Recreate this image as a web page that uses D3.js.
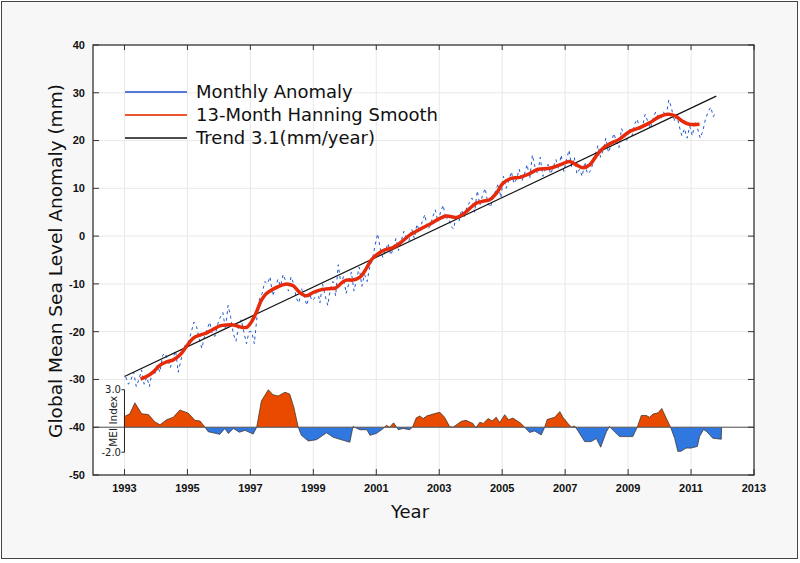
<!DOCTYPE html>
<html>
<head>
<meta charset="utf-8">
<script src="https://cdn.jsdelivr.net/npm/d3@7"></script>
<style>
  body { margin: 0; background: #fff; }
  svg text { font-family: "DejaVu Sans", sans-serif; }
  .tick-label { font-family: "Liberation Sans", Arial, sans-serif !important; font-weight: bold; font-size: 11px; fill: #111; }
</style>
</head>
<body>
<div id="chart"></div>
<script>
// Monthly sea level anomaly (mm), Jan 1993 .. Oct 2011
const monthlyStart = 1993;
const monthlyAnomaly = [
  -29.5, -31, -30, -28.5, -31.5, -30, -28, -31, -29.5, -31.5, -28.5, -29,
  -27, -28.5, -25, -24.5, -26, -27.5, -25.5, -24, -28.5, -26, -23.5, -22.5,
  -22, -20, -18, -19, -21.5, -23.5, -21, -19.5, -18, -20.5, -21, -18.5,
  -17, -16, -19.5, -14.5, -17, -20.5, -22, -19, -17.5, -20, -22.5, -20,
  -20, -22.5, -17, -13, -12, -9.5, -10, -8.5, -12.5, -11, -9, -10.5,
  -8, -9.5, -11.5, -8.5, -10, -13, -14, -11, -12.5, -14.5, -12, -13.5,
  -13, -11, -14, -10, -12.5, -14.5, -11, -9.5, -12.5, -6, -10, -8.5,
  -12, -10, -7.5, -11.5, -9, -6.5, -10.5, -8, -9.5, -6.5, -5, -2,
  0.5, -2.5, -4.5, -3, -1.5, -4, -2.5, -0.5, -3, -1, 1, -0.5,
  -1, 1.5, -0.5, 2.5, 1, 3, 4.5, 1.5, 2, 4, 5.5, 3,
  5, 6.5, 3.5, 4, 2, 1.5, 4.5, 3, 5.5, 4, 6, 7,
  8, 5, 9.5, 6.5, 8.5, 10, 7, 6, 8, 9.5, 11, 8,
  12.5, 10, 11.5, 13.5, 11, 12, 14, 11.5, 13, 15, 12, 17,
  14.5, 13, 16.5, 12.5, 14, 15, 13, 14.5, 16, 14, 17, 13.5,
  16, 18, 14.5, 16.5, 13, 14, 12.5, 15.5, 13, 13.5, 15, 17,
  19, 16.5, 18, 20.5, 17.5, 19, 21.5, 20, 18.5, 22.5, 21, 20,
  22.5, 21, 23.5, 24.5, 22, 23, 25.5, 24, 22.5, 24.5, 26, 25,
  24.5, 26, 25, 28.5, 27, 24, 25.5, 23, 21, 22.5, 20.5, 23,
  21, 24, 22.5, 20.5, 22, 24.5, 26, 27, 25, 26
];

// 13-month Hanning smooth (mm)
const smoothYear = [
  1993.51, 1993.70, 1993.92, 1994.13, 1994.34, 1994.55, 1994.76, 1994.97,
  1995.18, 1995.40, 1995.60, 1995.82, 1996.03, 1996.24, 1996.46, 1996.67,
  1996.88, 1997.04, 1997.20, 1997.35, 1997.51, 1997.72, 1997.94, 1998.15,
  1998.36, 1998.57, 1998.78, 1998.99, 1999.20, 1999.52, 1999.70, 1999.90,
  2000.05, 2000.26, 2000.48, 2000.69, 2000.84, 2001.00, 2001.27, 2001.53,
  2001.75, 2002.06, 2002.38, 2002.70, 2003.02, 2003.23, 2003.55, 2003.76,
  2003.97, 2004.18, 2004.39, 2004.60, 2004.82, 2005.03, 2005.29, 2005.56,
  2005.87, 2006.14, 2006.51, 2006.83, 2007.14, 2007.36, 2007.57, 2007.78,
  2007.99, 2008.20, 2008.41, 2008.73, 2009.05, 2009.37, 2009.68, 2010.00,
  2010.26, 2010.48, 2010.74, 2010.95, 2011.27
];
const smoothValue = [
  -29.9, -29.4, -28.4, -27.0, -26.3, -25.9, -24.9, -23.1,
  -21.4, -20.7, -20.3, -19.5, -18.8, -18.6, -18.6, -19.0,
  -19.1, -17.9, -15.8, -13.4, -12.0, -11.1, -10.4, -10.0,
  -10.4, -11.8, -12.5, -11.8, -11.3, -11.0, -10.9, -9.8,
  -9.2, -9.2, -8.6, -6.7, -5.0, -4.0, -2.9, -2.4,
  -1.5, 0.2, 1.4, 2.5, 3.7, 4.2, 3.9, 4.6,
  5.8, 6.9, 7.3, 7.6, 9.0, 11.1, 12.1, 12.3,
  13.1, 14.0, 14.2, 14.9, 15.6, 14.9, 14.3, 14.9,
  16.8, 18.4, 19.3, 20.3, 21.9, 22.7, 23.7, 25.0,
  25.5, 25.2, 24.0, 23.4, 23.4
];

// Linear trend 3.1 mm/year
const trendYear = [1993.0, 2011.8];
const trendValue = [-29.4, 29.3];

// Multivariate ENSO Index
const meiYear = [
  1993.0, 1993.0, 1993.17, 1993.33, 1993.55, 1993.76, 1993.97, 1994.13, 1994.34, 1994.55,
  1994.76, 1995.03, 1995.24, 1995.4, 1995.56, 1995.66, 1996.03, 1996.19, 1996.3, 1996.46,
  1996.65, 1996.83, 1997.09, 1997.2, 1997.35, 1997.57, 1997.72, 1997.88, 1998.1, 1998.25,
  1998.38, 1998.52, 1998.62, 1998.84, 1999.1, 1999.42, 1999.63, 1999.95, 2000.16, 2000.26,
  2000.48, 2000.7, 2000.8, 2001.0, 2001.2, 2001.32, 2001.42, 2001.55, 2001.7, 2001.85,
  2002.06, 2002.15, 2002.27, 2002.38, 2002.49, 2002.6, 2002.8, 2003.02, 2003.17, 2003.33,
  2003.44, 2003.7, 2003.85, 2004.07, 2004.16, 2004.29, 2004.4, 2004.55, 2004.68, 2004.81,
  2004.92, 2005.08, 2005.2, 2005.34, 2005.45, 2005.6, 2005.71, 2005.87, 2006.03, 2006.24,
  2006.35, 2006.43, 2006.67, 2006.83, 2006.93, 2007.09, 2007.2, 2007.3, 2007.41, 2007.62,
  2007.83, 2007.99, 2008.13, 2008.31, 2008.41, 2008.57, 2008.73, 2008.94, 2009.15, 2009.29,
  2009.42, 2009.58, 2009.68, 2009.79, 2009.95, 2010.07, 2010.2, 2010.35, 2010.48, 2010.58,
  2010.68, 2010.84, 2011.0, 2011.2, 2011.27, 2011.4, 2011.5, 2011.69, 2011.96, 2011.97
];
const meiValue = [
  0, 0.86, 1.07, 1.95, 1.07, 1.02, 0.42, 0.2, 0.6, 0.8,
  1.38, 1.12, 0.55, 0.5, 0.0, -0.36, -0.57, -0.1, -0.5, -0.1,
  -0.4, -0.25, -0.55, 0.0, 2.1, 3.0, 2.6, 2.5, 2.8, 2.65,
  1.6, 0.0, -0.65, -1.1, -1.0, -0.45, -0.8, -1.05, -1.2, 0.05,
  -0.2, -0.2, -0.65, -0.5, -0.15, 0.15, 0.0, 0.35, -0.2, -0.1,
  -0.2, 0.0, 0.75, 0.9, 0.7, 0.9, 1.05, 1.2, 0.8, 0.05,
  0.0, 0.47, 0.55, 0.3, -0.05, 0.4, 0.3, 0.7, 0.5, 0.8,
  0.37, 1.0, 0.6, 0.73, 0.55, 0.3, 0.0, -0.42, -0.3, -0.62,
  0.0, 0.62, 0.8, 1.25, 0.8, 0.3, 0.0, 0.1, -0.3, -1.15,
  -1.15, -0.9, -1.6, -0.37, 0.05, -0.37, -0.75, -0.75, -0.75, 0.0,
  0.94, 0.94, 0.8, 1.05, 1.15, 1.5, 0.8, 0.0, -0.9, -1.93,
  -1.93, -1.67, -1.67, -1.54, -0.75, -0.18, -0.36, -0.88, -0.96, 0
];

const yearTicks = [1993, 1995, 1997, 1999, 2001, 2003, 2005, 2007, 2009, 2011, 2013];
const levelTicks = [-50, -40, -30, -20, -10, 0, 10, 20, 30, 40];
const meiTicks = [3.0, -2.0];
const legendLabels = ['Monthly Anomaly', '13-Month Hanning Smooth', 'Trend 3.1(mm/year)'];

const width = 800;
const height = 563;
const margin = { top: 45, right: 46, bottom: 88, left: 93 };

const svg = d3.select('#chart')
  .append('svg')
  .attr('width', width)
  .attr('height', height);

// page background and frame
svg.append('rect')
  .attr('x', 1.5).attr('y', 1.5)
  .attr('width', 796).attr('height', 557)
  .attr('fill', '#f7f7f7')
  .attr('stroke', '#444')
  .attr('stroke-width', 1);

const x = d3.scaleLinear()
  .domain([1992, 2013])
  .range([margin.left, width - margin.right]);

const y = d3.scaleLinear()
  .domain([-50, 40])
  .range([height - margin.bottom, margin.top]);

const baseY = y(-40);
const mei = d3.scaleLinear()
  .domain([-2, 3])
  .range([baseY + 25, baseY - 37.5]);

const [x0, x1] = x.range();
const [yb, yt] = y.range();

// plot area
svg.append('rect')
  .attr('x', x0).attr('y', yt)
  .attr('width', x1 - x0).attr('height', yb - yt)
  .attr('fill', '#fff');

// grid
const grid = svg.append('g').attr('stroke', '#e8e8e8').attr('stroke-width', 1);
grid.selectAll('.vg')
  .data(yearTicks.filter((d) => d < 2013))
  .enter().append('line')
  .attr('x1', (d) => x(d)).attr('x2', (d) => x(d))
  .attr('y1', yt).attr('y2', yb);
grid.selectAll('.hg')
  .data(levelTicks.filter((d) => d > -50 && d < 40))
  .enter().append('line')
  .attr('x1', x0).attr('x2', x1)
  .attr('y1', (d) => y(d)).attr('y2', (d) => y(d));

// MEI areas, orange above zero and blue below
const defs = svg.append('defs');
defs.append('clipPath').attr('id', 'clip-pos')
  .append('rect').attr('x', x0).attr('y', yt).attr('width', x1 - x0).attr('height', baseY - yt);
defs.append('clipPath').attr('id', 'clip-neg')
  .append('rect').attr('x', x0).attr('y', baseY).attr('width', x1 - x0).attr('height', yb - baseY);

const meiData = meiYear.map((d, i) => ({ t: d, v: meiValue[i] }));
const meiArea = d3.area()
  .x((d) => x(d.t))
  .y0(baseY)
  .y1((d) => mei(d.v));
const meiLine = d3.line()
  .x((d) => x(d.t))
  .y((d) => mei(d.v));

svg.append('path')
  .datum(meiData)
  .attr('clip-path', 'url(#clip-pos)')
  .attr('fill', '#e84a00')
  .attr('d', meiArea);
svg.append('path')
  .datum(meiData)
  .attr('clip-path', 'url(#clip-neg)')
  .attr('fill', '#3077e0')
  .attr('d', meiArea);
svg.append('path')
  .datum(meiData)
  .attr('fill', 'none')
  .attr('stroke', '#3a2a20')
  .attr('stroke-width', 0.7)
  .attr('d', meiLine);

// MEI zero line
svg.append('line')
  .attr('x1', x0).attr('x2', x1)
  .attr('y1', baseY).attr('y2', baseY)
  .attr('stroke', '#555')
  .attr('stroke-width', 1);

// MEI mini axis
const meiAxis = svg.append('g');
meiAxis.append('line')
  .attr('x1', x(1993)).attr('x2', x(1993))
  .attr('y1', mei(3)).attr('y2', mei(-2))
  .attr('stroke', '#222').attr('stroke-width', 1);
meiAxis.selectAll('.mt')
  .data(meiTicks)
  .enter().append('line')
  .attr('x1', x(1993) - 3).attr('x2', x(1993))
  .attr('y1', (d) => mei(d)).attr('y2', (d) => mei(d))
  .attr('stroke', '#222');
meiAxis.selectAll('.ml')
  .data(meiTicks)
  .enter().append('text')
  .attr('x', x(1993) - 3.5)
  .attr('y', (d) => mei(d))
  .attr('dy', '0.35em')
  .attr('text-anchor', 'end')
  .style('font-size', '10px')
  .attr('fill', '#222')
  .text((d) => d.toFixed(1));
meiAxis.append('text')
  .attr('transform', `translate(${x(1993) - 7},${baseY - 6}) rotate(-90)`)
  .attr('text-anchor', 'middle')
  .style('font-size', '10.5px')
  .attr('fill', '#222')
  .text('MEI Index');

// monthly anomaly, dashed blue
const monthly = monthlyAnomaly.map((v, i) => ({ t: monthlyStart + (i + 0.5) / 12, v }));
const line = d3.line()
  .x((d) => x(d.t))
  .y((d) => y(d.v));

svg.append('path')
  .datum(monthly)
  .attr('fill', 'none')
  .attr('stroke', '#2459c8')
  .attr('stroke-width', 1)
  .attr('stroke-dasharray', '3,3.5')
  .attr('d', line);

// trend
const trend = trendYear.map((t, i) => ({ t, v: trendValue[i] }));
svg.append('path')
  .datum(trend)
  .attr('fill', 'none')
  .attr('stroke', '#111')
  .attr('stroke-width', 1.2)
  .attr('d', line);

// smooth
const smooth = smoothYear.map((t, i) => ({ t, v: smoothValue[i] }));
svg.append('path')
  .datum(smooth)
  .attr('fill', 'none')
  .attr('stroke', '#e62a0a')
  .attr('stroke-width', 3.5)
  .attr('stroke-linejoin', 'round')
  .attr('d', line.curve(d3.curveCatmullRom));

// frame and ticks
svg.append('rect')
  .attr('x', x0).attr('y', yt)
  .attr('width', x1 - x0).attr('height', yb - yt)
  .attr('fill', 'none')
  .attr('stroke', '#333')
  .attr('stroke-width', 1.3);

const ticks = svg.append('g').attr('stroke', '#333').attr('stroke-width', 1);
yearTicks.forEach((d) => {
  ticks.append('line').attr('x1', x(d)).attr('x2', x(d)).attr('y1', yt).attr('y2', yt + 5);
  ticks.append('line').attr('x1', x(d)).attr('x2', x(d)).attr('y1', yb).attr('y2', yb - 6);
});
levelTicks.forEach((d) => {
  ticks.append('line').attr('x1', x0).attr('x2', x0 + 6).attr('y1', y(d)).attr('y2', y(d));
  ticks.append('line').attr('x1', x1).attr('x2', x1 - 6).attr('y1', y(d)).attr('y2', y(d));
});

svg.append('g').selectAll('text')
  .data(yearTicks)
  .enter().append('text')
  .attr('class', 'tick-label')
  .attr('x', (d) => x(d))
  .attr('y', yb + 17)
  .attr('text-anchor', 'middle')
  .text((d) => d);

svg.append('g').selectAll('text')
  .data(levelTicks)
  .enter().append('text')
  .attr('class', 'tick-label')
  .attr('x', x0 - 8)
  .attr('y', (d) => y(d))
  .attr('dy', '0.35em')
  .attr('text-anchor', 'end')
  .text((d) => d);

// axis titles
svg.append('text')
  .attr('x', 410)
  .attr('y', 518)
  .attr('text-anchor', 'middle')
  .style('font-size', '18px')
  .attr('fill', '#111')
  .text('Year');

svg.append('text')
  .attr('transform', 'translate(62,261) rotate(-90)')
  .attr('text-anchor', 'middle')
  .style('font-size', '18.5px')
  .attr('fill', '#111')
  .text('Global Mean Sea Level Anomaly (mm)');

// legend
const legendColors = ['#1f4fc8', '#e8552f', '#111'];
const legendWidths = [1.6, 2, 1.6];
const legend = svg.append('g');
legendLabels.forEach((label, i) => {
  const ly = 92 + i * 23;
  legend.append('line')
    .attr('x1', 125).attr('x2', 187)
    .attr('y1', ly).attr('y2', ly)
    .attr('stroke', legendColors[i])
    .attr('stroke-width', legendWidths[i]);
  legend.append('text')
    .attr('x', 196)
    .attr('y', ly)
    .attr('dy', '0.35em')
    .style('font-size', '18px')
    .attr('fill', '#111')
    .text(label);
});
</script>
</body>
</html>
